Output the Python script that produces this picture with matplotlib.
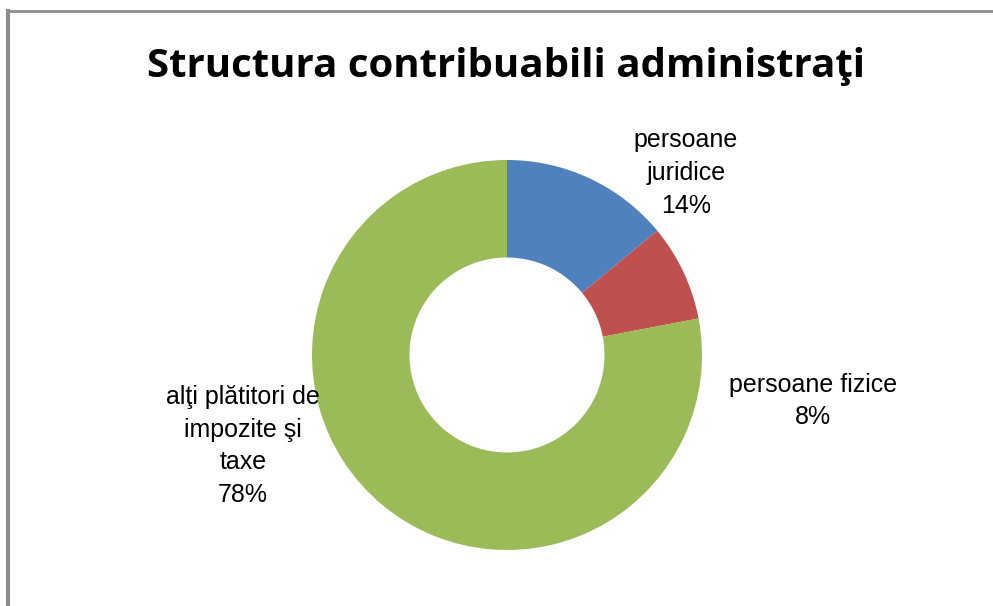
import matplotlib
matplotlib.use("Agg")
import matplotlib.pyplot as plt
from matplotlib.lines import Line2D

categories = ["persoane\njuridice", "persoane fizice", "alţi plătitori de\nimpozite şi\ntaxe"]
values = [14, 8, 78]
colors = ["#4F81BD", "#C0504D", "#9BBB59"]
title = "Structura contribuabili administraţi"

W, H = 993, 606
fig = plt.figure(figsize=(W / 100, H / 100), dpi=100)

# border (top and left only visible)
fig.add_artist(Line2D([8 / W, 8 / W], [0, 1 - 11 / H], color="#8c8c8c", lw=3, transform=fig.transFigure))
fig.add_artist(Line2D([8 / W, 1], [1 - 11 / H, 1 - 11 / H], color="#8c8c8c", lw=2, transform=fig.transFigure))

cx, cy, r = 507, 355, 195
half = 200
ax = fig.add_axes([(cx - half) / W, (H - cy - half) / H, 2 * half / W, 2 * half / H])
ax.pie(values, colors=colors, startangle=90, counterclock=False, radius=1,
       wedgeprops=dict(width=0.5, linewidth=0))
lim = half / r
ax.set_xlim(-lim, lim)
ax.set_ylim(-lim, lim)
ax.set_aspect("equal")
ax.axis("off")

label_pos = [(686, 173), (813, 401), (243, 446)]
for cat, v, (px, py) in zip(categories, values, label_pos):
    ax.text((px - cx) / r, (cy - py) / r, f"{cat}\n{v}%", ha="center", va="center",
            fontsize=18, family="Liberation Sans", linespacing=1.45, clip_on=False)

fig.text(506 / W, 1 - 66 / H, title, ha="center", va="center", fontsize=29,
         fontweight="bold", family="Open Sans")

fig.savefig("out.png", dpi=100)
